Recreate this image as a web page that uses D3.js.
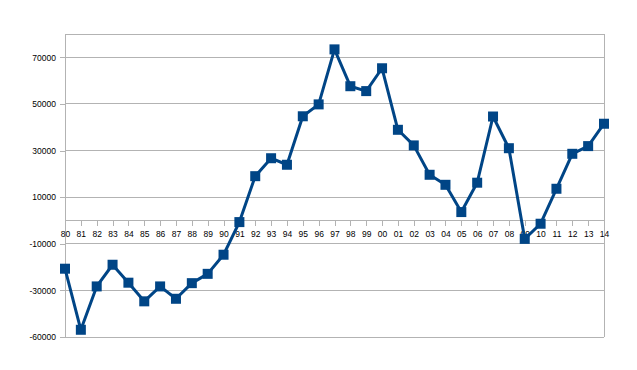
<!DOCTYPE html>
<html>
<head>
<meta charset="utf-8">
<script src="https://cdn.jsdelivr.net/npm/d3@7"></script>
<style>
  body { margin: 0; background: #fff; }
  svg { display: block; }
  text { font-family: "Liberation Sans", Arial, sans-serif; font-size: 8.5px; fill: #000; }
</style>
</head>
<body>
<svg id="chart" width="637" height="370"></svg>
<script>
const years = ["80","81","82","83","84","85","86","87","88","89","90","91","92","93","94","95","96","97",
  "98","99","00","01","02","03","04","05","06","07","08","09","10","11","12","13","14"];
const values = [-20700, -46900, -28300, -19000, -26700, -34700, -28300, -33600, -26900, -22900, -14700, -700,
  19000, 26700, 23900, 44700, 49800, 73400, 57600, 55500, 65300, 38900, 32200, 19600, 15300, 3600, 16200,
  44600, 31000, -7900, -1400, 13600, 28600, 31900, 41500];
const yTicks = [-50000, -30000, -10000, 10000, 30000, 50000, 70000];
const yTickLabels = ["-60000", "-30000", "-10000", "10000", "30000", "50000", "70000"];
const yDomain = [-50000, 80000];

const plot = { left: 65, right: 604, top: 34, bottom: 337 };
const svg = d3.select("#chart");

const x = d3.scalePoint().domain(years).range([plot.left, plot.right]);
const y = d3.scaleLinear().domain(yDomain).range([plot.bottom, plot.top]);

// gridlines + frame
svg.append("g")
  .selectAll("line")
  .data(yTicks.concat([yDomain[1]]))
  .join("line")
  .attr("x1", plot.left)
  .attr("x2", plot.right)
  .attr("y1", (d) => y(d))
  .attr("y2", (d) => y(d))
  .attr("stroke", "#b3b3b3")
  .attr("shape-rendering", "crispEdges");

svg.append("line")
  .attr("x1", plot.right).attr("x2", plot.right)
  .attr("y1", plot.top).attr("y2", plot.bottom)
  .attr("stroke", "#b3b3b3")
  .attr("shape-rendering", "crispEdges");

// y axis
const yAxis = d3.axisLeft(y)
  .tickValues(yTicks)
  .tickFormat((d, i) => yTickLabels[i])
  .tickSize(5)
  .tickPadding(4);
const yg = svg.append("g").attr("transform", `translate(${plot.left},0)`).call(yAxis);
yg.select(".domain").remove();
yg.append("line")
  .attr("y1", plot.top).attr("y2", plot.bottom)
  .attr("stroke", "#b3b3b3").attr("shape-rendering", "crispEdges");
yg.selectAll(".tick line").attr("stroke", "#b3b3b3").attr("shape-rendering", "crispEdges");
yg.selectAll("text").style("font-size", "8.5px").attr("fill", "#000");

// x axis at zero
const xAxis = d3.axisBottom(x).tickSize(6).tickPadding(5).tickSizeOuter(0);
const xg = svg.append("g").attr("transform", `translate(0,${y(0)})`).call(xAxis);
xg.select(".domain").attr("stroke", "#b3b3b3").attr("shape-rendering", "crispEdges");
xg.selectAll(".tick line").attr("stroke", "#b3b3b3").attr("shape-rendering", "crispEdges");
xg.selectAll("text").style("font-size", "8.5px").attr("fill", "#000");

// series
const line = d3.line().x((d, i) => x(years[i])).y((d) => y(d));
svg.append("path")
  .datum(values)
  .attr("fill", "none")
  .attr("stroke", "#004586")
  .attr("stroke-width", 3)
  .attr("stroke-linejoin", "round")
  .attr("d", line);

const m = 10;
svg.append("g")
  .selectAll("rect")
  .data(values)
  .join("rect")
  .attr("x", (d, i) => x(years[i]) - m / 2)
  .attr("y", (d) => y(d) - m / 2)
  .attr("width", m)
  .attr("height", m)
  .attr("fill", "#004586");
</script>
</body>
</html>
